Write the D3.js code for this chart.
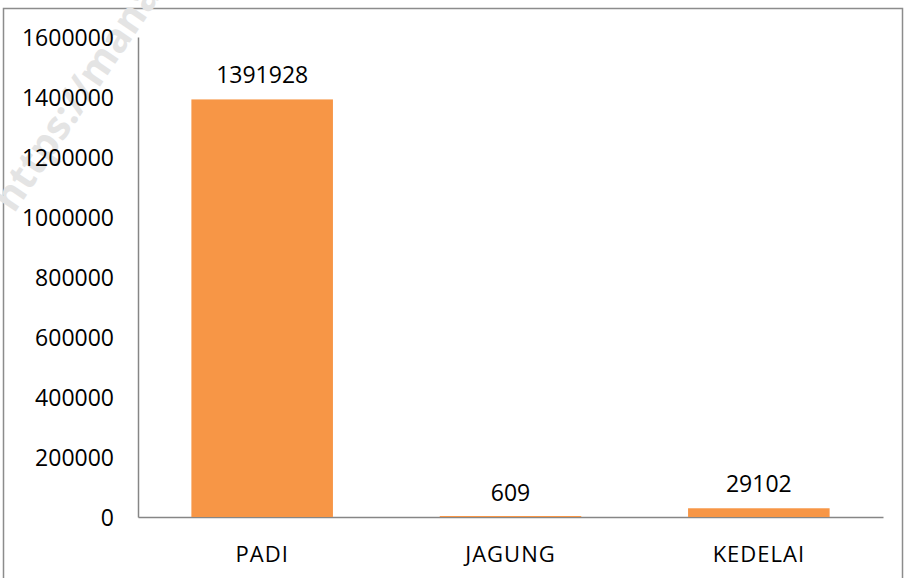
<!DOCTYPE html>
<html>
<head>
<meta charset="utf-8">
<script src="https://cdn.jsdelivr.net/npm/d3@7"></script>
<style>
  body { margin: 0; background: #fff; }
  svg text { font-family: "Open Sans", "Noto Sans", sans-serif; fill: #000; }
</style>
</head>
<body>
<script>
"use strict";

// data
var categories = ["PADI", "JAGUNG", "KEDELAI"];
var values = [1391928, 609, 29102];
var yTicks = [0, 200000, 400000, 600000, 800000, 1000000, 1200000, 1400000, 1600000];

var W = 913, H = 578;
var margin = {top: 37, right: 30, bottom: 61, left: 138},
    width = 883 - margin.left,
    height = 517 - margin.top;

var svg = d3.select("body").append("svg")
    .attr("width", W)
    .attr("height", H);

// outer frame
svg.append("rect")
    .attr("x", 3.5).attr("y", 8.5)
    .attr("width", 899).attr("height", 580)
    .attr("fill", "none")
    .attr("stroke", "#8c8c8c")
    .attr("stroke-width", 1.5);

// faint watermark
svg.append("text")
    .attr("transform", "translate(14,214) rotate(-56)")
    .style("font-size", "40px")
    .style("font-weight", "bold")
    .style("fill", "#e4e4e4")
    .text("https://manado");

var g = svg.append("g")
    .attr("transform", "translate(" + margin.left + "," + margin.top + ")");

var x = d3.scaleBand().domain(categories).range([0, width]).paddingInner(0.43).paddingOuter(0.215);
var y = d3.scaleLinear().domain([0, 1600000]).range([height, 0]);

// Y axis
var yAxis = g.append("g")
    .call(d3.axisLeft(y).tickValues(yTicks).tickSize(0).tickPadding(24).tickFormat(d3.format("d")));
yAxis.select(".domain").attr("stroke", "#868686").attr("stroke-width", 1.5);
yAxis.selectAll("text").style("font-size", "23px").attr("dy", "0.35em");

// X axis
var xAxis = g.append("g")
    .attr("transform", "translate(0," + height + ")")
    .call(d3.axisBottom(x).tickSize(0).tickPadding(29));
xAxis.select(".domain").attr("stroke", "#868686").attr("stroke-width", 1.5);
xAxis.selectAll("text").style("font-size", "22px").style("letter-spacing", "1px").attr("dy", "0.71em");

// bars (drawn over the axis line, min 1px so the tiny one still shows)
g.selectAll(".bar")
    .data(values)
  .enter().append("rect")
    .attr("class", "bar")
    .attr("x", function(d, i) { return x(categories[i]); })
    .attr("width", x.bandwidth())
    .attr("y", function(d) { return Math.min(y(d), height - 1); })
    .attr("height", function(d) { return Math.max(height - y(d), 1); })
    .attr("fill", "#f79646");

// value labels
g.selectAll(".val")
    .data(values)
  .enter().append("text")
    .attr("class", "val")
    .attr("x", function(d, i) { return x(categories[i]) + x.bandwidth() / 2; })
    .attr("y", function(d) { return y(d) - 16; })
    .attr("text-anchor", "middle")
    .style("font-size", "23px")
    .text(function(d) { return d; });
</script>
</body>
</html>
